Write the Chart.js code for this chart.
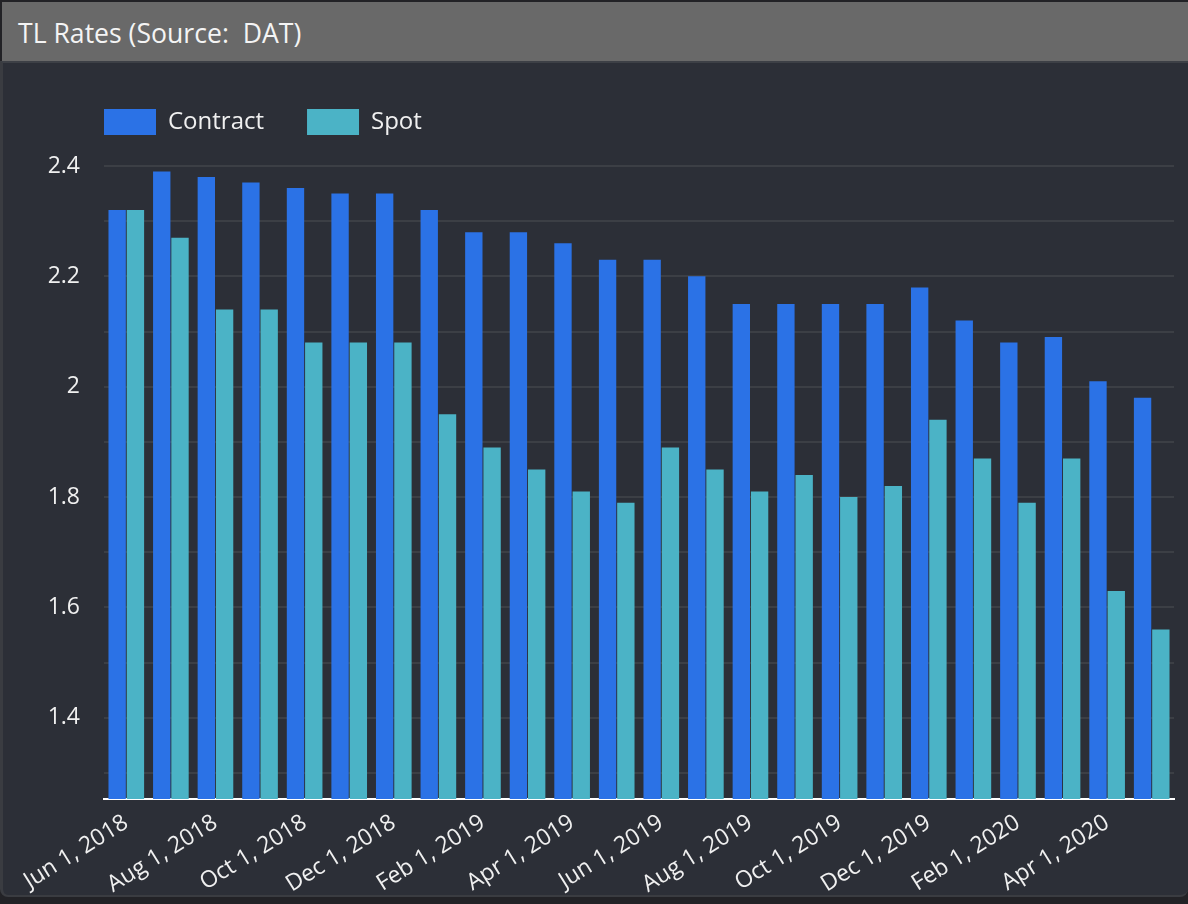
<!DOCTYPE html>
<html>
<head>
<meta charset="utf-8">
<script src="https://cdn.jsdelivr.net/npm/chart.js@4"></script>
<style>
  html, body { margin: 0; padding: 0; background: #222226; width: 1188px; height: 904px; overflow: hidden; }
  .header {
    position: absolute; left: 2px; top: 2px; width: 1186px; height: 59px;
    background: #696969; color: #f4f4f4;
    font-family: "Open Sans", sans-serif; font-size: 26.6px; line-height: 63px;
    padding-left: 16px; box-sizing: border-box; white-space: pre;
  }
  .card {
    position: absolute; left: 0; top: 61px; width: 1188px; height: 836px;
    background: #2c2f37; border-top: 2px solid #3d4046; border-left: 3px solid #3a3c41;
    border-bottom: 2px solid #3a3c41; border-radius: 0 0 8px 8px; box-sizing: border-box;
  }
  #chart { position: absolute; left: 0; top: 63px; }
</style>
</head>
<body>
<div class="header">TL Rates (Source:  DAT)</div>
<div class="card"></div>
<canvas id="chart" width="1188" height="834"></canvas>
<script>
const categories = [
  'Jun 1, 2018', 'Jul 1, 2018', 'Aug 1, 2018', 'Sep 1, 2018', 'Oct 1, 2018', 'Nov 1, 2018',
  'Dec 1, 2018', 'Jan 1, 2019', 'Feb 1, 2019', 'Mar 1, 2019', 'Apr 1, 2019', 'May 1, 2019',
  'Jun 1, 2019', 'Jul 1, 2019', 'Aug 1, 2019', 'Sep 1, 2019', 'Oct 1, 2019', 'Nov 1, 2019',
  'Dec 1, 2019', 'Jan 1, 2020', 'Feb 1, 2020', 'Mar 1, 2020', 'Apr 1, 2020', 'May 1, 2020'
];
const contract = [2.32, 2.39, 2.38, 2.37, 2.36, 2.35, 2.35, 2.32, 2.28, 2.28, 2.26, 2.23,
                  2.23, 2.20, 2.15, 2.15, 2.15, 2.15, 2.18, 2.12, 2.08, 2.09, 2.01, 1.98];
const spot = [2.32, 2.27, 2.14, 2.14, 2.08, 2.08, 2.08, 1.95, 1.89, 1.85, 1.81, 1.79,
              1.89, 1.85, 1.81, 1.84, 1.80, 1.82, 1.94, 1.87, 1.79, 1.87, 1.63, 1.56];
const yTicks = [1.3, 1.4, 1.5, 1.6, 1.7, 1.8, 1.9, 2.0, 2.1, 2.2, 2.3, 2.4];
const yTickLabels = ['', '1.4', '', '1.6', '', '1.8', '', '2', '', '2.2', '', '2.4'];

const font = { family: '"Open Sans", sans-serif', size: 24 };
const textColor = '#f0f0f0';
const gridColor = '#3c3f45';

// move the legend so its first box lines up with the plot's left edge
const legendShift = {
  id: 'legendShift',
  beforeDraw(chart) {
    const pad = chart.options.plugins.legend.labels.padding;
    chart.legend.left = chart.chartArea.left - pad;
  }
};

new Chart(document.getElementById('chart'), {
  type: 'bar',
  data: {
    labels: categories,
    datasets: [{
      label: 'Contract',
      data: contract,
      backgroundColor: '#2b72e6',
      borderWidth: 0,
      categoryPercentage: 0.82,
      barPercentage: 0.95
    }, {
      label: 'Spot',
      data: spot,
      backgroundColor: '#4bb3c6',
      borderWidth: 0,
      categoryPercentage: 0.82,
      barPercentage: 0.95
    }]
  },
  options: {
    responsive: false,
    animation: false,
    devicePixelRatio: 1,
    layout: { padding: { top: 3, left: 0, right: 14, bottom: 0 } },
    plugins: {
      legend: {
        position: 'top',
        align: 'start',
        labels: {
          color: textColor,
          font: font,
          boxWidth: 52,
          boxHeight: 26,
          padding: 43
        }
      },
      tooltip: { enabled: false }
    },
    scales: {
      x: {
        grid: { display: false },
        border: { color: '#ffffff', width: 2 },
        ticks: {
          color: textColor,
          font: { family: font.family, size: 23 },
          autoSkip: false,
          minRotation: 32,
          maxRotation: 32,
          padding: 2,
          callback: function (value, index) {
            return index % 2 === 0 ? categories[index] : '';
          }
        },
        afterFit: function (scale) { scale.height = 98; }
      },
      y: {
        min: 1.253,
        max: 2.438,
        grid: { color: gridColor, lineWidth: 2, drawTicks: false },
        border: { display: false },
        ticks: {
          color: textColor,
          font: { family: font.family, size: 23 },
          padding: 24,
          callback: function (value, index) { return yTickLabels[index]; }
        },
        afterBuildTicks: function (scale) {
          scale.ticks = yTicks.map(v => ({ value: v }));
        },
        afterFit: function (scale) { scale.width = 104; }
      }
    }
  },
  plugins: [legendShift]
});
</script>
</body>
</html>
